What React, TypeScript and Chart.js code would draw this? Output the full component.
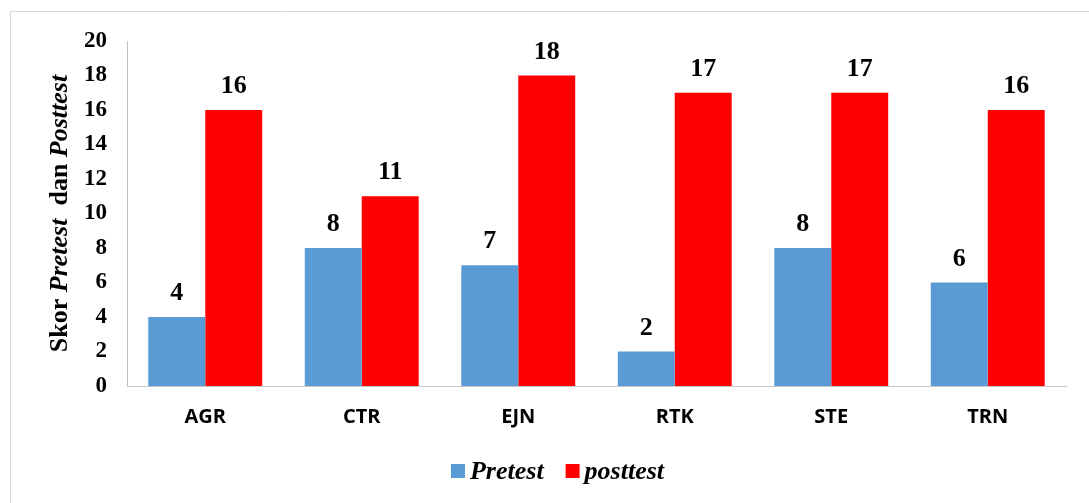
import React, { useEffect, useRef } from "react";
import { Chart, registerables } from "chart.js";

Chart.register(...registerables);

const categories = ["AGR", "CTR", "EJN", "RTK", "STE", "TRN"];
const pretestValues = [4, 8, 7, 2, 8, 6];
const posttestValues = [16, 11, 18, 17, 17, 16];
const seriesLabels = ["Pretest", "posttest"];
const titleParts = [
  { text: "Skor ", italic: false },
  { text: "Pretest", italic: true },
  { text: "  dan ", italic: false },
  { text: "Posttest", italic: true },
];

const SERIF = "'Liberation Serif', 'Times New Roman', serif";
const SANS = "'Open Sans', 'Liberation Sans', sans-serif";

const frameAndTitle = {
  id: "frameAndTitle",
  beforeDraw(chart: any) {
    const ctx = chart.ctx;
    ctx.save();
    ctx.fillStyle = "#ffffff";
    ctx.fillRect(0, 0, chart.width, chart.height);
    ctx.strokeStyle = "#d9d9d9";
    ctx.lineWidth = 1;
    ctx.beginPath();
    ctx.moveTo(10.5, chart.height + 5);
    ctx.lineTo(10.5, 11.5);
    ctx.lineTo(chart.width + 5, 11.5);
    ctx.stroke();
    ctx.restore();
  },
  afterDraw(chart: any) {
    const ctx = chart.ctx;
    const area = chart.chartArea;
    ctx.save();
    // Y axis title, mixed styles
    const fontFor = (italic: boolean) => `${italic ? "italic " : ""}bold 26px ${SERIF}`;
    let total = 0;
    const widths = titleParts.map((p) => {
      ctx.font = fontFor(p.italic);
      const w = ctx.measureText(p.text).width;
      total += w;
      return w;
    });
    ctx.translate(67, (area.top + area.bottom) / 2);
    ctx.rotate(-Math.PI / 2);
    ctx.fillStyle = "#000000";
    ctx.textBaseline = "alphabetic";
    ctx.textAlign = "left";
    let x = -total / 2;
    titleParts.forEach((p, i) => {
      ctx.font = fontFor(p.italic);
      ctx.fillText(p.text, x, 0);
      x += widths[i];
    });
    ctx.restore();

    // Data labels
    ctx.save();
    ctx.font = `bold 26px ${SERIF}`;
    ctx.fillStyle = "#000000";
    ctx.textAlign = "center";
    ctx.textBaseline = "alphabetic";
    chart.data.datasets.forEach((ds: any, di: number) => {
      const meta = chart.getDatasetMeta(di);
      meta.data.forEach((bar: any, i: number) => {
        ctx.fillText(String(ds.data[i]), bar.x, bar.y - 17);
      });
    });
    ctx.restore();

    // Legend
    ctx.save();
    ctx.font = `italic bold 26px ${SERIF}`;
    ctx.textBaseline = "alphabetic";
    ctx.textAlign = "left";
    const box = 14;
    const gapText = 5;
    const gapItem = 22;
    const items = chart.data.datasets.map((ds: any) => ({
      label: ds.label,
      color: ds.backgroundColor,
      w: ctx.measureText(ds.label).width,
    }));
    let totalW = 0;
    items.forEach((it: any, i: number) => {
      totalW += box + gapText + it.w + (i < items.length - 1 ? gapItem : 0);
    });
    let lx = 557.5 - totalW / 2;
    items.forEach((it: any) => {
      ctx.fillStyle = it.color;
      ctx.fillRect(lx, 464, box, box);
      ctx.fillStyle = "#000000";
      ctx.fillText(it.label, lx + box + gapText, 479);
      lx += box + gapText + it.w + gapItem;
    });
    ctx.restore();
  },
};

export default function App() {
  const canvasRef = useRef<HTMLCanvasElement | null>(null);

  useEffect(() => {
    if (!canvasRef.current) return;
    const chart = new Chart(canvasRef.current, {
      type: "bar",
      data: {
        labels: categories,
        datasets: [
          {
            label: seriesLabels[0],
            data: pretestValues,
            backgroundColor: "#5B9BD5",
            categoryPercentage: 0.728,
            barPercentage: 1,
          },
          {
            label: seriesLabels[1],
            data: posttestValues,
            backgroundColor: "#FF0000",
            categoryPercentage: 0.728,
            barPercentage: 1,
          },
        ],
      },
      options: {
        animation: false,
        responsive: true,
        maintainAspectRatio: false,
        layout: { padding: { top: 41, right: 23, bottom: 0, left: 0 } },
        plugins: {
          legend: { display: false },
          tooltip: { enabled: false },
          title: { display: false },
        },
        scales: {
          x: {
            grid: { display: false, drawTicks: false },
            border: { display: true, color: "#c8c8c8", width: 1 },
            ticks: {
              color: "#000000",
              font: { family: SANS, size: 20, weight: "bold" },
              padding: 19,
              maxRotation: 0,
            },
            afterFit: (scale: any) => {
              scale.height = 117;
            },
          },
          y: {
            min: 0,
            max: 20,
            grid: { display: false, drawTicks: false },
            border: { display: true, color: "#bfbfbf", width: 1 },
            ticks: {
              stepSize: 2,
              color: "#000000",
              font: { family: SERIF, size: 23, weight: "bold" },
              padding: 20,
            },
            afterFit: (scale: any) => {
              scale.width = 127;
            },
          },
        },
      },
      plugins: [frameAndTitle],
    });
    return () => chart.destroy();
  }, []);

  return (
    <div
      style={{
        position: "fixed",
        left: 0,
        top: 0,
        width: 1089,
        height: 503,
        background: "#ffffff",
      }}
    >
      <canvas ref={canvasRef} />
    </div>
  );
}
